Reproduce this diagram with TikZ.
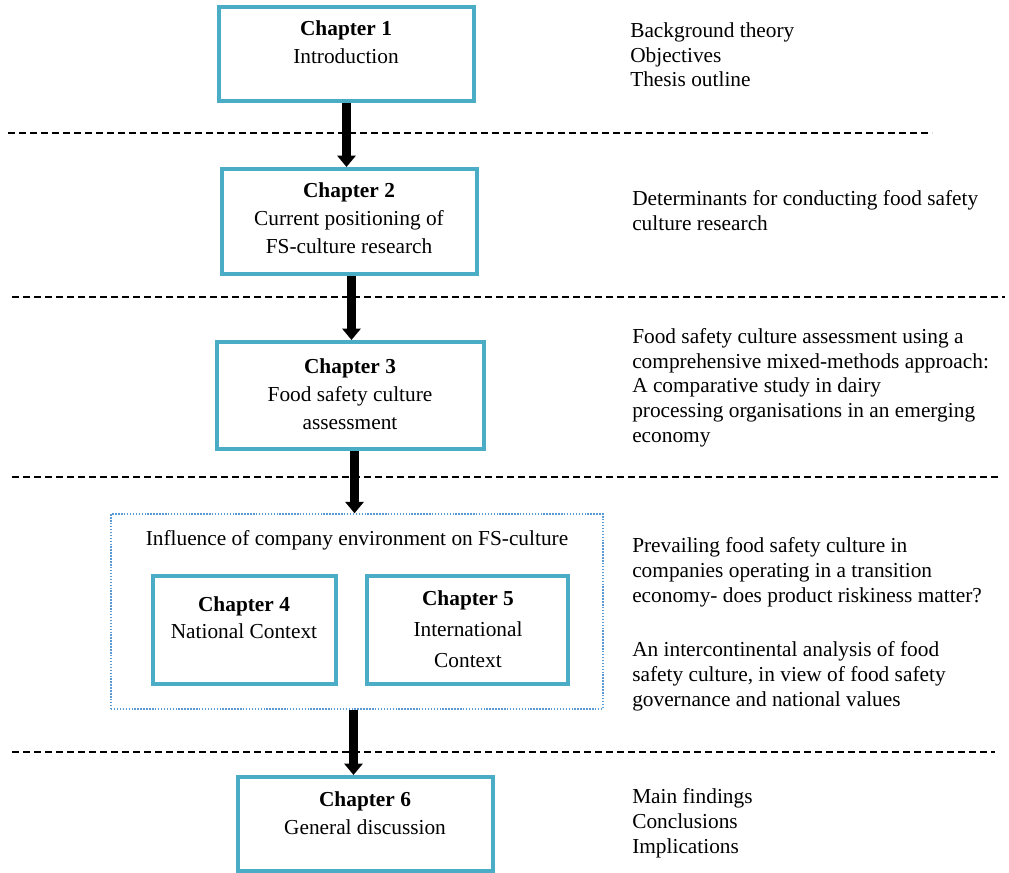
\documentclass[tikz,border=0pt]{standalone}
\usepackage{fontspec}
\setmainfont{Liberation Serif}
\usetikzlibrary{arrows.meta,fit}
\definecolor{chteal}{HTML}{4BACC6}
\definecolor{frameblue}{HTML}{5B9BD5}

\begin{document}
\begin{tikzpicture}[x=0.75pt,y=-0.75pt,
  chbox/.style={draw=chteal, line width=3pt, inner sep=0pt},
  groupframe/.style={draw=frameblue, line width=1.1pt, dash pattern=on 1.1pt off 1.1pt, inner sep=0pt},
  % multi-line nodes: the base anchor sits on the last line
  boxtxt/.style={anchor=base, align=center, inner sep=0pt, font=\fontsize{16}{21}\selectfont},
  note/.style={anchor=base west, align=left, inner sep=0pt, font=\fontsize{16}{18.4}\selectfont},
  sepline/.style={line width=1.1pt, dash pattern=on 5.25pt off 3pt},
  flow/.style={line width=6.75pt, -{Triangle[width=13.5pt,length=8.5pt]}}
]
\fill[white] (0,0) rectangle (1009,873);
\useasboundingbox (0,0) rectangle (1009,873);

% section separators
\draw[sepline] (8,133) -- (932,133);
\draw[sepline] (12,297) -- (1005,297);
\draw[sepline] (12,477) -- (1000,477);
\draw[sepline] (12,752) -- (995,752);

% chapter boxes
\node[chbox, fit={(219,7) (474,101.5)}] (c1) {};
\node[chbox, fit={(222,169) (477,274)}] (c2) {};
\node[chbox, fit={(217,342) (484,449)}] (c3) {};
\node[groupframe, fit={(111,514) (603,709)}] (grp) {};
\node[chbox, fit={(153,576) (336,684)}] (c4) {};
\node[chbox, fit={(367,576) (568,684)}] (c5) {};
\node[chbox, fit={(238,777) (493,871)}] (c6) {};

% box texts
\node[boxtxt] (t1) at (346,64) {\textbf{Chapter 1}\\Introduction};
\node[boxtxt] (t2) at (349,254) {\textbf{Chapter 2}\\Current positioning of\\FS-culture research};
\node[boxtxt] (t3) at (350,429) {\textbf{Chapter 3}\\Food safety culture\\assessment};
\node[boxtxt] (tg) at (357,545) {Influence of company environment on FS-culture};
\node[boxtxt, font=\fontsize{16}{20.25}\selectfont] (t4) at (244,638) {\textbf{Chapter 4}\\National Context};
\node[boxtxt, font=\fontsize{16}{23.25}\selectfont] (t5) at (468,667) {\textbf{Chapter 5}\\International\\Context};
\node[boxtxt] (t6) at (365,834) {\textbf{Chapter 6}\\General discussion};

% right-hand notes
\node[note] (n1) at (630,87) {Background theory\\Objectives\\Thesis outline};
\node[note] (n2) at (632,230.5) {Determinants for conducting food safety\\culture research};
\node[note] (n3) at (632,442) {Food safety culture assessment using a\\comprehensive mixed-methods approach:\\A comparative study in dairy\\processing organisations in an emerging\\economy};
\node[note] (n4) at (632,602) {Prevailing food safety culture in\\companies operating in a transition\\economy- does product riskiness matter?};
\node[note] (n5) at (632,706) {An intercontinental analysis of food\\safety culture, in view of food safety\\governance and national values};
\node[note] (n6) at (632,853) {Main findings\\Conclusions\\Implications};

% flow arrows
\coordinate (ax1) at (346.5,0);
\coordinate (ax2) at (351.5,0);
\coordinate (ax3) at (354.5,0);
\coordinate (ax4) at (353.5,0);
\draw[flow] (c1.south -| ax1) -- (c2.north -| ax1);
\draw[flow] (c2.south -| ax2) -- (c3.north -| ax2);
\draw[flow] (c3.south -| ax3) -- (grp.north -| ax3);
\draw[flow] (grp.south -| ax4) -- (c6.north -| ax4);
\end{tikzpicture}
\end{document}
